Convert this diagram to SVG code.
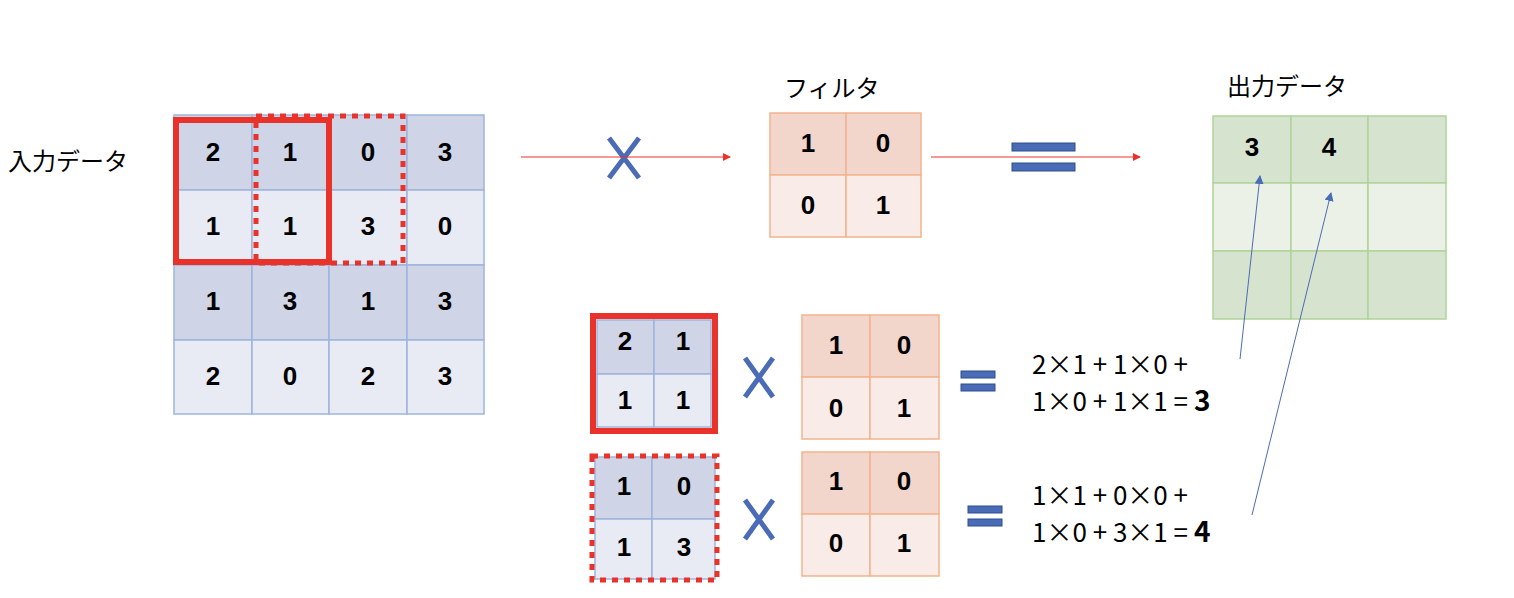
<svg xmlns="http://www.w3.org/2000/svg" width="1514" height="598" viewBox="0 0 1514 598">
<style>
text{font-family:"Noto Sans CJK JP","Liberation Sans",sans-serif;fill:#000}
.n{font-family:"Liberation Sans",sans-serif;font-weight:bold;font-size:26px;text-anchor:middle;dominant-baseline:central}
.dk{fill:#cfd5e6;stroke:#9fb4dd;stroke-width:1.5}
.lt{fill:#e8eaf4;stroke:#9fb4dd;stroke-width:1.5}
.fd{fill:#f2d6cc;stroke:#f2b48c;stroke-width:1.5}
.fl{fill:#f9ebe7;stroke:#f2b48c;stroke-width:1.5}
.gd{fill:#d6e3cf;stroke:#b0d49a;stroke-width:1.5}
.gl{fill:#ebf1e7;stroke:#b0d49a;stroke-width:1.5}
.sol{fill:none;stroke:#e8322a;stroke-width:6}
.dot{fill:none;stroke:#e8322a;stroke-width:5;stroke-dasharray:6 6}
.x{stroke:#4a6bb5;stroke-width:5;fill:none}
.eq{fill:#4a6bb5;stroke:#2f4f8f;stroke-width:1}
.eqt{font-family:"Noto Sans CJK JP","Liberation Sans",sans-serif;font-size:26px}
</style>
<defs>
<marker id="ar" markerWidth="8" markerHeight="8" refX="7" refY="4" orient="auto" markerUnits="userSpaceOnUse"><path d="M0,0L8,4L0,8z" fill="#e8322a"/></marker>
<marker id="ab" markerWidth="9" markerHeight="9" refX="8" refY="4.5" orient="auto" markerUnits="userSpaceOnUse"><path d="M0,0L9,4.5L0,9z" fill="#4a6bb5"/></marker>
</defs>
<g id="input">
<rect class="dk" x="174" y="115" width="78" height="75"/><rect class="dk" x="252" y="115" width="77" height="75"/><rect class="dk" x="329" y="115" width="78" height="75"/><rect class="dk" x="407" y="115" width="77" height="75"/>
<rect class="lt" x="174" y="190" width="78" height="75"/><rect class="lt" x="252" y="190" width="77" height="75"/><rect class="lt" x="329" y="190" width="78" height="75"/><rect class="lt" x="407" y="190" width="77" height="75"/>
<rect class="dk" x="174" y="265" width="78" height="75"/><rect class="dk" x="252" y="265" width="77" height="75"/><rect class="dk" x="329" y="265" width="78" height="75"/><rect class="dk" x="407" y="265" width="77" height="75"/>
<rect class="lt" x="174" y="340" width="78" height="74"/><rect class="lt" x="252" y="340" width="77" height="74"/><rect class="lt" x="329" y="340" width="78" height="74"/><rect class="lt" x="407" y="340" width="77" height="74"/>
<text class="n" x="213" y="152">2</text><text class="n" x="290" y="152">1</text><text class="n" x="368" y="152">0</text><text class="n" x="445" y="152">3</text>
<text class="n" x="213" y="226">1</text><text class="n" x="290" y="226">1</text><text class="n" x="368" y="226">3</text><text class="n" x="445" y="226">0</text>
<text class="n" x="213" y="301">1</text><text class="n" x="290" y="301">3</text><text class="n" x="368" y="301">1</text><text class="n" x="445" y="301">3</text>
<text class="n" x="213" y="376">2</text><text class="n" x="290" y="376">0</text><text class="n" x="368" y="376">2</text><text class="n" x="445" y="376">3</text>
<rect class="sol" x="176" y="120" width="153" height="142"/>
<rect class="dot" x="256" y="116" width="147" height="147"/>
</g>
<g id="label-input"><text x="8" y="170" font-size="24">入力データ</text></g>
<g id="filter">
<rect class="fd" x="770" y="113" width="76" height="62"/><rect class="fd" x="846" y="113" width="75" height="62"/>
<rect class="fl" x="770" y="175" width="76" height="62"/><rect class="fl" x="846" y="175" width="75" height="62"/>
<text class="n" x="808" y="143">1</text><text class="n" x="883" y="143">0</text>
<text class="n" x="808" y="205">0</text><text class="n" x="883" y="205">1</text>
</g>
<g id="label-filter"><text x="784" y="97" font-size="24">フィルタ</text></g>
<g id="output">
<rect class="gd" x="1213" y="116" width="78" height="67"/><rect class="gd" x="1291" y="116" width="77" height="67"/><rect class="gd" x="1368" y="116" width="78" height="67"/>
<rect class="gl" x="1213" y="183" width="78" height="68"/><rect class="gl" x="1291" y="183" width="77" height="68"/><rect class="gl" x="1368" y="183" width="78" height="68"/>
<rect class="gd" x="1213" y="251" width="78" height="68"/><rect class="gd" x="1291" y="251" width="77" height="68"/><rect class="gd" x="1368" y="251" width="78" height="68"/>
<text class="n" x="1252" y="147">3</text><text class="n" x="1329" y="147">4</text>
</g>
<g id="label-output"><text x="1227" y="95" font-size="24">出力データ</text></g>
<g id="conv1">
<rect class="dk" x="597" y="320" width="57" height="54"/><rect class="dk" x="654" y="320" width="57" height="54"/>
<rect class="lt" x="597" y="374" width="57" height="53"/><rect class="lt" x="654" y="374" width="57" height="53"/>
<text class="n" x="625" y="341">2</text><text class="n" x="683" y="341">1</text>
<text class="n" x="625" y="400">1</text><text class="n" x="683" y="400">1</text>
<rect class="sol" x="593" y="316" width="122" height="115"/>
<rect class="fd" x="802" y="315" width="68" height="62"/><rect class="fd" x="870" y="315" width="69" height="62"/>
<rect class="fl" x="802" y="377" width="68" height="62"/><rect class="fl" x="870" y="377" width="69" height="62"/>
<text class="n" x="836" y="345">1</text><text class="n" x="904" y="345">0</text>
<text class="n" x="836" y="408">0</text><text class="n" x="904" y="408">1</text>
<text class="eqt" x="1032" y="374">2×1 + 1×0 +</text>
<text class="eqt" x="1032" y="411">1×0 + 1×1 = <tspan font-weight="bold" font-size="28">3</tspan></text>
</g>
<g id="conv2">
<rect class="dk" x="595" y="457" width="57" height="62"/><rect class="dk" x="652" y="457" width="63" height="62"/>
<rect class="lt" x="595" y="519" width="57" height="60"/><rect class="lt" x="652" y="519" width="63" height="60"/>
<text class="n" x="624" y="486">1</text><text class="n" x="684" y="486">0</text>
<text class="n" x="624" y="547">1</text><text class="n" x="684" y="547">3</text>
<rect class="dot" x="592" y="456" width="125" height="124"/>
<rect class="fd" x="802" y="452" width="68" height="62"/><rect class="fd" x="870" y="452" width="69" height="62"/>
<rect class="fl" x="802" y="514" width="68" height="62"/><rect class="fl" x="870" y="514" width="69" height="62"/>
<text class="n" x="836" y="481">1</text><text class="n" x="904" y="481">0</text>
<text class="n" x="836" y="543">0</text><text class="n" x="904" y="543">1</text>
<text class="eqt" x="1032" y="505">1×1 + 0×0 +</text>
<text class="eqt" x="1032" y="542">1×0 + 3×1 = <tspan font-weight="bold" font-size="28">4</tspan></text>
</g>
<g id="operators">
<path class="x" d="M609,138L639,178M639,138L609,178"/>
<rect class="eq" x="1012" y="143" width="63" height="8"/><rect class="eq" x="1012" y="163" width="63" height="8"/>
<path class="x" d="M745,358L773,397M773,358L745,397"/>
<rect class="eq" x="961" y="371" width="34" height="7"/><rect class="eq" x="961" y="384" width="34" height="7"/>
<path class="x" d="M745,500L773,539M773,500L745,539"/>
<rect class="eq" x="968" y="506" width="34" height="7"/><rect class="eq" x="968" y="519" width="34" height="7"/>
</g>
<g id="connectors">
<line x1="521" y1="157" x2="730" y2="157" stroke="#e8322a" stroke-width="1" marker-end="url(#ar)"/>
<line x1="931" y1="157" x2="1140" y2="157" stroke="#e8322a" stroke-width="1" marker-end="url(#ar)"/>
<line x1="1240" y1="359" x2="1260" y2="176" stroke="#4a6bb5" stroke-width="1" marker-end="url(#ab)"/>
<line x1="1252" y1="515" x2="1331" y2="193" stroke="#4a6bb5" stroke-width="1" marker-end="url(#ab)"/>
</g>
</svg>
